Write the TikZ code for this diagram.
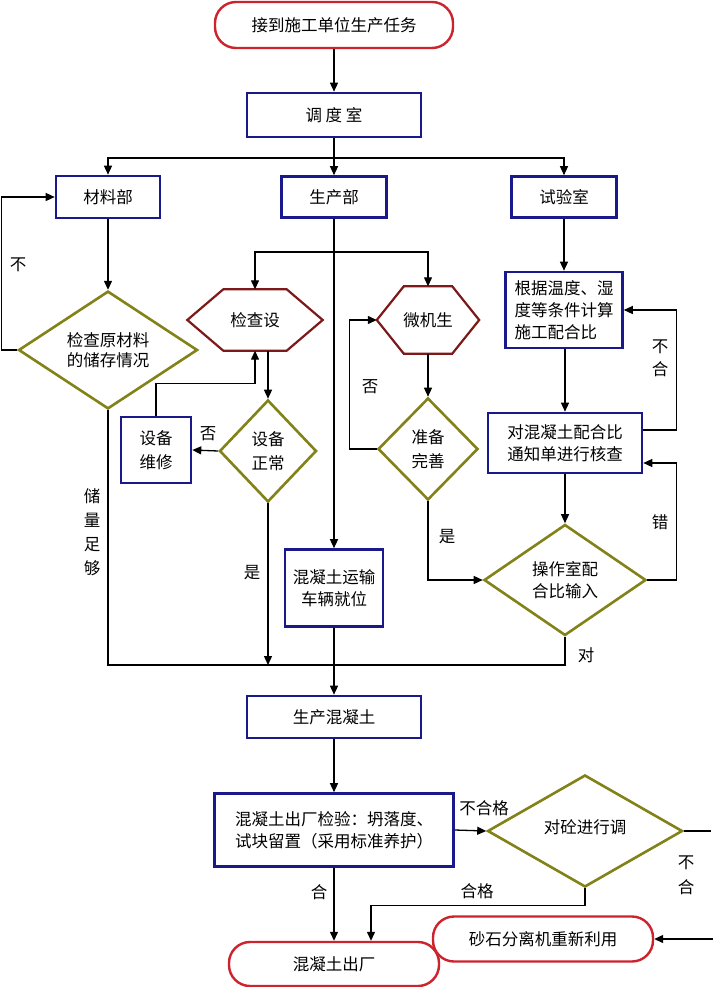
\documentclass[tikz,border=0pt]{standalone}
\usepackage{fontspec}
\setmainfont{Noto Sans CJK SC}
\usetikzlibrary{shapes.geometric,arrows.meta}
\definecolor{bbox}{RGB}{25,25,140}
\definecolor{tred}{RGB}{205,35,45}
\definecolor{hexc}{RGB}{125,25,25}
\definecolor{diac}{RGB}{130,130,25}
\begin{document}
\begin{tikzpicture}[x=1pt,y=-1pt,
  every node/.style={font=\fontsize{16.5}{22}\selectfont, inner sep=0pt},
  box/.style={draw=bbox, line width=2.6pt, rectangle, align=center},
  term/.style={draw=tred, line width=2.4pt, rectangle, rounded corners=21pt, align=center},
  dia/.style={draw=diac, line width=2.6pt, diamond, aspect=1, align=center},
  hexn/.style={rectangle, align=center},
  hexs/.style={draw=hexc, line width=2.2pt, line join=miter},
  conn/.style={line width=1.3pt, draw=black},
  arr/.style={conn, -{Triangle[length=9pt,width=8pt]}},
  vlab/.style={align=center, font=\fontsize{16.5}{24}\selectfont}
]
\fill[white] (0,0) rectangle (713,987);
\useasboundingbox (0,0) rectangle (713,987);

% nodes
\node[term, minimum width=238pt, minimum height=46pt] (t1) at (334,25) {接到施工单位生产任务};
\node[box, minimum width=174pt, minimum height=44pt] (d) at (334,115) {调\ 度\ 室};
\node[box, minimum width=104pt, minimum height=42pt] (cl) at (108,197) {材料部};
\node[box, minimum width=105pt, minimum height=41pt] (sc) at (334,197) {生产部};
\node[box, minimum width=105pt, minimum height=41pt] (sy) at (564,197) {试验室};

\node[dia, minimum width=179pt, minimum height=95pt, font=\fontsize{16.5}{20}\selectfont] (dm1) at (108,350) {检查原材料\\的储存情况};
\node[hexn, minimum width=135pt, minimum height=61pt] (hx1) at (255,320) {检查设};
\draw[hexs] (hx1.west) -- ([xshift=36pt]hx1.north west) -- ([xshift=-36pt]hx1.north east) -- (hx1.east) -- ([xshift=-36pt]hx1.south east) -- ([xshift=36pt]hx1.south west) -- cycle;
\node[hexn, minimum width=102pt, minimum height=67pt] (hx2) at (428,320) {微机生};
\draw[hexs] (hx2.west) -- ([xshift=27pt]hx2.north west) -- ([xshift=-27pt]hx2.north east) -- (hx2.east) -- ([xshift=-27pt]hx2.south east) -- ([xshift=27pt]hx2.south west) -- cycle;
\node[dia, minimum width=97pt, minimum height=102pt, font=\fontsize{16.5}{24}\selectfont] (dm2) at (268,451) {设备\\正常};
\node[box, minimum width=70pt, minimum height=66pt, align=left, font=\fontsize{16.5}{24}\selectfont] (rp) at (156,450) {设备\\维修\hspace{8pt}};
\node[dia, minimum width=100pt, minimum height=102pt, font=\fontsize{16.5}{24}\selectfont] (dm3) at (428,449) {准备\\完善};
\node[box, minimum width=98pt, minimum height=77pt] (tr) at (334,588) {混凝土运输\\车辆就位};
\node[box, minimum width=117pt, minimum height=76pt, align=left] (b1) at (564,310) {根据温度、湿\\度等条件计算\\施工配合比};
\node[box, minimum width=154pt, minimum height=60pt] (b2) at (565,443) {对混凝土配合比\\通知单进行核查};
\node[dia, minimum width=162pt, minimum height=111pt] (dm4) at (565,580) {操作室配\\合比输入};
\node[box, minimum width=174pt, minimum height=42pt] (pc) at (334,717) {生产混凝土};
\node[box, minimum width=239pt, minimum height=73pt, align=left] (ck) at (334,830) {混凝土出厂检验：坍落度、\\试块留置（采用标准养护）};
\node[dia, minimum width=195pt, minimum height=112pt] (dm5) at (585,831) {\raisebox{8pt}{对砼进行调}};
\node[term, minimum width=220pt, minimum height=45pt] (t2) at (543,939) {砂石分离机重新利用};
\node[term, minimum width=210pt, minimum height=44pt] (t3) at (334,964) {混凝土出厂};

% coordinates
\coordinate (br) at (334,158);
\coordinate (br2) at (334,252);
\coordinate (j1) at (334,665);
\coordinate (e1) at (711,831);
\coordinate (e2) at (713,939);

% connectors
\draw[arr] (t1.south) -- (d.north);
\draw[arr] (d.south) -- (sc.north);
\draw[arr] (br) -| (cl.north);
\draw[arr] (br) -| (sy.north);
\draw[arr] (cl.south) -- (dm1.north);
\draw[arr] (dm1.west) -- ++(-16,0) |- (cl.west);
\draw[conn] (dm1.south) |- (j1);
\draw[arr] (sc.south) -- (tr.north);
\draw[arr] (br2) -| (hx1.north);
\draw[arr] (br2) -| (hx2.north);
\draw[arr] (hx1.south -| dm2.north) -- (dm2.north);
\draw[arr] (dm2.west) -- (rp.east);
\draw[arr] (rp.north) -- ++(0,-32) -| (hx1.south);
\draw[arr] (dm2.south) -- (dm2.south |- j1);
\draw[arr] (hx2.south) -- (dm3.north);
\draw[arr] (dm3.west) -- ++(-27,0) |- (hx2.west);
\draw[arr] (dm3.south) |- (dm4.west);
\draw[arr] (sy.south) -- (b1.north);
\draw[arr] (b1.south -| b2.north) -- (b2.north);
\draw[arr] ([yshift=13pt]b2.east) -- ++(33,0) |- (b1.east);
\draw[arr] (b2.south) -- (dm4.north);
\draw[arr] (dm4.east) -- ++(29,0) |- ([yshift=-20pt]b2.east);
\draw[conn] (dm4.south) |- (j1);
\draw[conn] (tr.south) -- (j1);
\draw[arr] (j1) -- (pc.north);
\draw[arr] (pc.south) -- (ck.north);
\draw[arr] (ck.east) -- (dm5.west);
\draw[conn] (dm5.east) -- (e1);
\draw[arr] (e2) -- (t2.east);
\draw[arr] (dm5.south) -- ++(0,17) -| ([xshift=37pt]t3.north);
\draw[arr] (ck.south) -- (t3.north);

% labels
\node (l1) at (18,265) {不};
\node[vlab] (l2) at (92,532) {储\\量\\足\\够};
\node (l3) at (208,434) {否};
\node (l4) at (252,573) {是};
\node (l5) at (370,387) {否};
\node (l6) at (447,537) {是};
\node[vlab, font=\fontsize{16.5}{23}\selectfont] (l7) at (660,358) {不\\合};
\node (l8) at (660,522) {错};
\node (l9) at (586,655) {对};
\node (l10) at (484,808) {不合格};
\node[vlab, font=\fontsize{16.5}{25}\selectfont] (l11) at (686,875) {不\\合};
\node (l12) at (477,891) {合格};
\node (l13) at (319,892) {合};
\end{tikzpicture}
\end{document}
